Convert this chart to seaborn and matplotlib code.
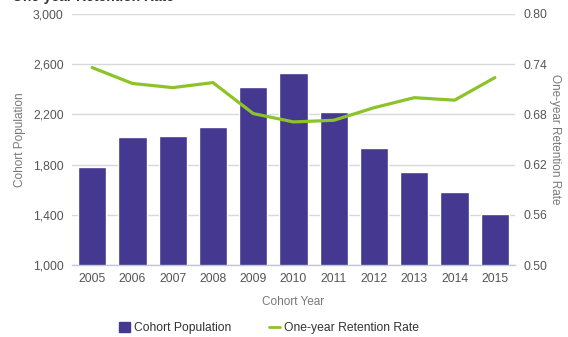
import numpy as np
import pandas as pd
import matplotlib
matplotlib.use("Agg")
import matplotlib.pyplot as plt
import seaborn as sns
from matplotlib.patches import Patch
from matplotlib.lines import Line2D

years = ["2005", "2006", "2007", "2008", "2009", "2010", "2011", "2012", "2013", "2014", "2015"]
population = [1780, 2020, 2030, 2100, 2415, 2530, 2220, 1935, 1740, 1585, 1405]
retention = [0.736, 0.717, 0.712, 0.718, 0.681, 0.671, 0.673, 0.688, 0.700, 0.697, 0.724]
left_ticks = [1000, 1400, 1800, 2200, 2600, 3000]
right_ticks = [0.50, 0.56, 0.62, 0.68, 0.74, 0.80]

sns.set_theme(style="white")
plt.rcParams['font.family'] = ['Liberation Sans', 'DejaVu Sans']

bar_color = "#443891"
line_color = "#8CC428"
text_color = "#555555"
grid_color = "#D8D8D8"

df = pd.DataFrame({"year": years, "population": population, "retention": retention})

fig = plt.figure(figsize=(5.68, 3.37), dpi=100)
ax = fig.add_axes([72/568, 1-265/337, (515-72)/568, (265-14)/337])

sns.barplot(data=df, x="year", y="population", color=bar_color, width=0.70,
            saturation=1, ax=ax, zorder=2)
ax.set_ylim(1000, 3000)
ax.set_yticks(left_ticks)
ax.set_yticklabels([f"{v:,}" for v in left_ticks])
ax.yaxis.grid(True, color=grid_color, linewidth=1, zorder=0)
ax.set_axisbelow(True)
for s in ["top", "right", "left"]:
    ax.spines[s].set_visible(False)
ax.spines["bottom"].set_color("#C0C8D8")
ax.spines["bottom"].set_linewidth(1)
ax.tick_params(axis="both", length=0, labelsize=8.7, colors=text_color, pad=6)
ax.set_xlabel("Cohort Year", fontsize=8.5, color="#777777", labelpad=8)
ax.set_ylabel("Cohort Population", fontsize=8.5, color="#777777", labelpad=5)

ax2 = ax.twinx()
sns.lineplot(x=np.arange(len(years)), y=retention, color=line_color, linewidth=2.3, ax=ax2, zorder=3)
ax2.set_ylim(0.50, 0.80)
ax2.set_yticks(right_ticks)
ax2.set_yticklabels([f"{v:.2f}" for v in right_ticks])
for s in ["top", "right", "left", "bottom"]:
    ax2.spines[s].set_visible(False)
ax2.tick_params(axis="y", length=0, labelsize=8.7, colors=text_color, pad=6)
ax2.set_ylabel("One-year Retention Rate", fontsize=8.5, color="#777777", rotation=270, labelpad=10)
ax.set_xlim(-0.5, len(years) - 0.5)

handles = [Patch(facecolor=bar_color, edgecolor=bar_color),
           Line2D([0], [0], color=line_color, linewidth=2)]
fig.legend(handles, ["Cohort Population", "One-year Retention Rate"], loc="center",
           bbox_to_anchor=(269/568, 1-328/337), ncol=2, frameon=False, fontsize=8.7,
           handlelength=0.9, handleheight=0.9, columnspacing=3.2, handletextpad=0.3,
           labelcolor="#333333")

fig.text(12/568, 1-1/337, "One-year Retention Rate", fontsize=10, fontweight="bold",
         color="#333333", va="baseline", ha="left")

fig.savefig("out.png", dpi=100)
